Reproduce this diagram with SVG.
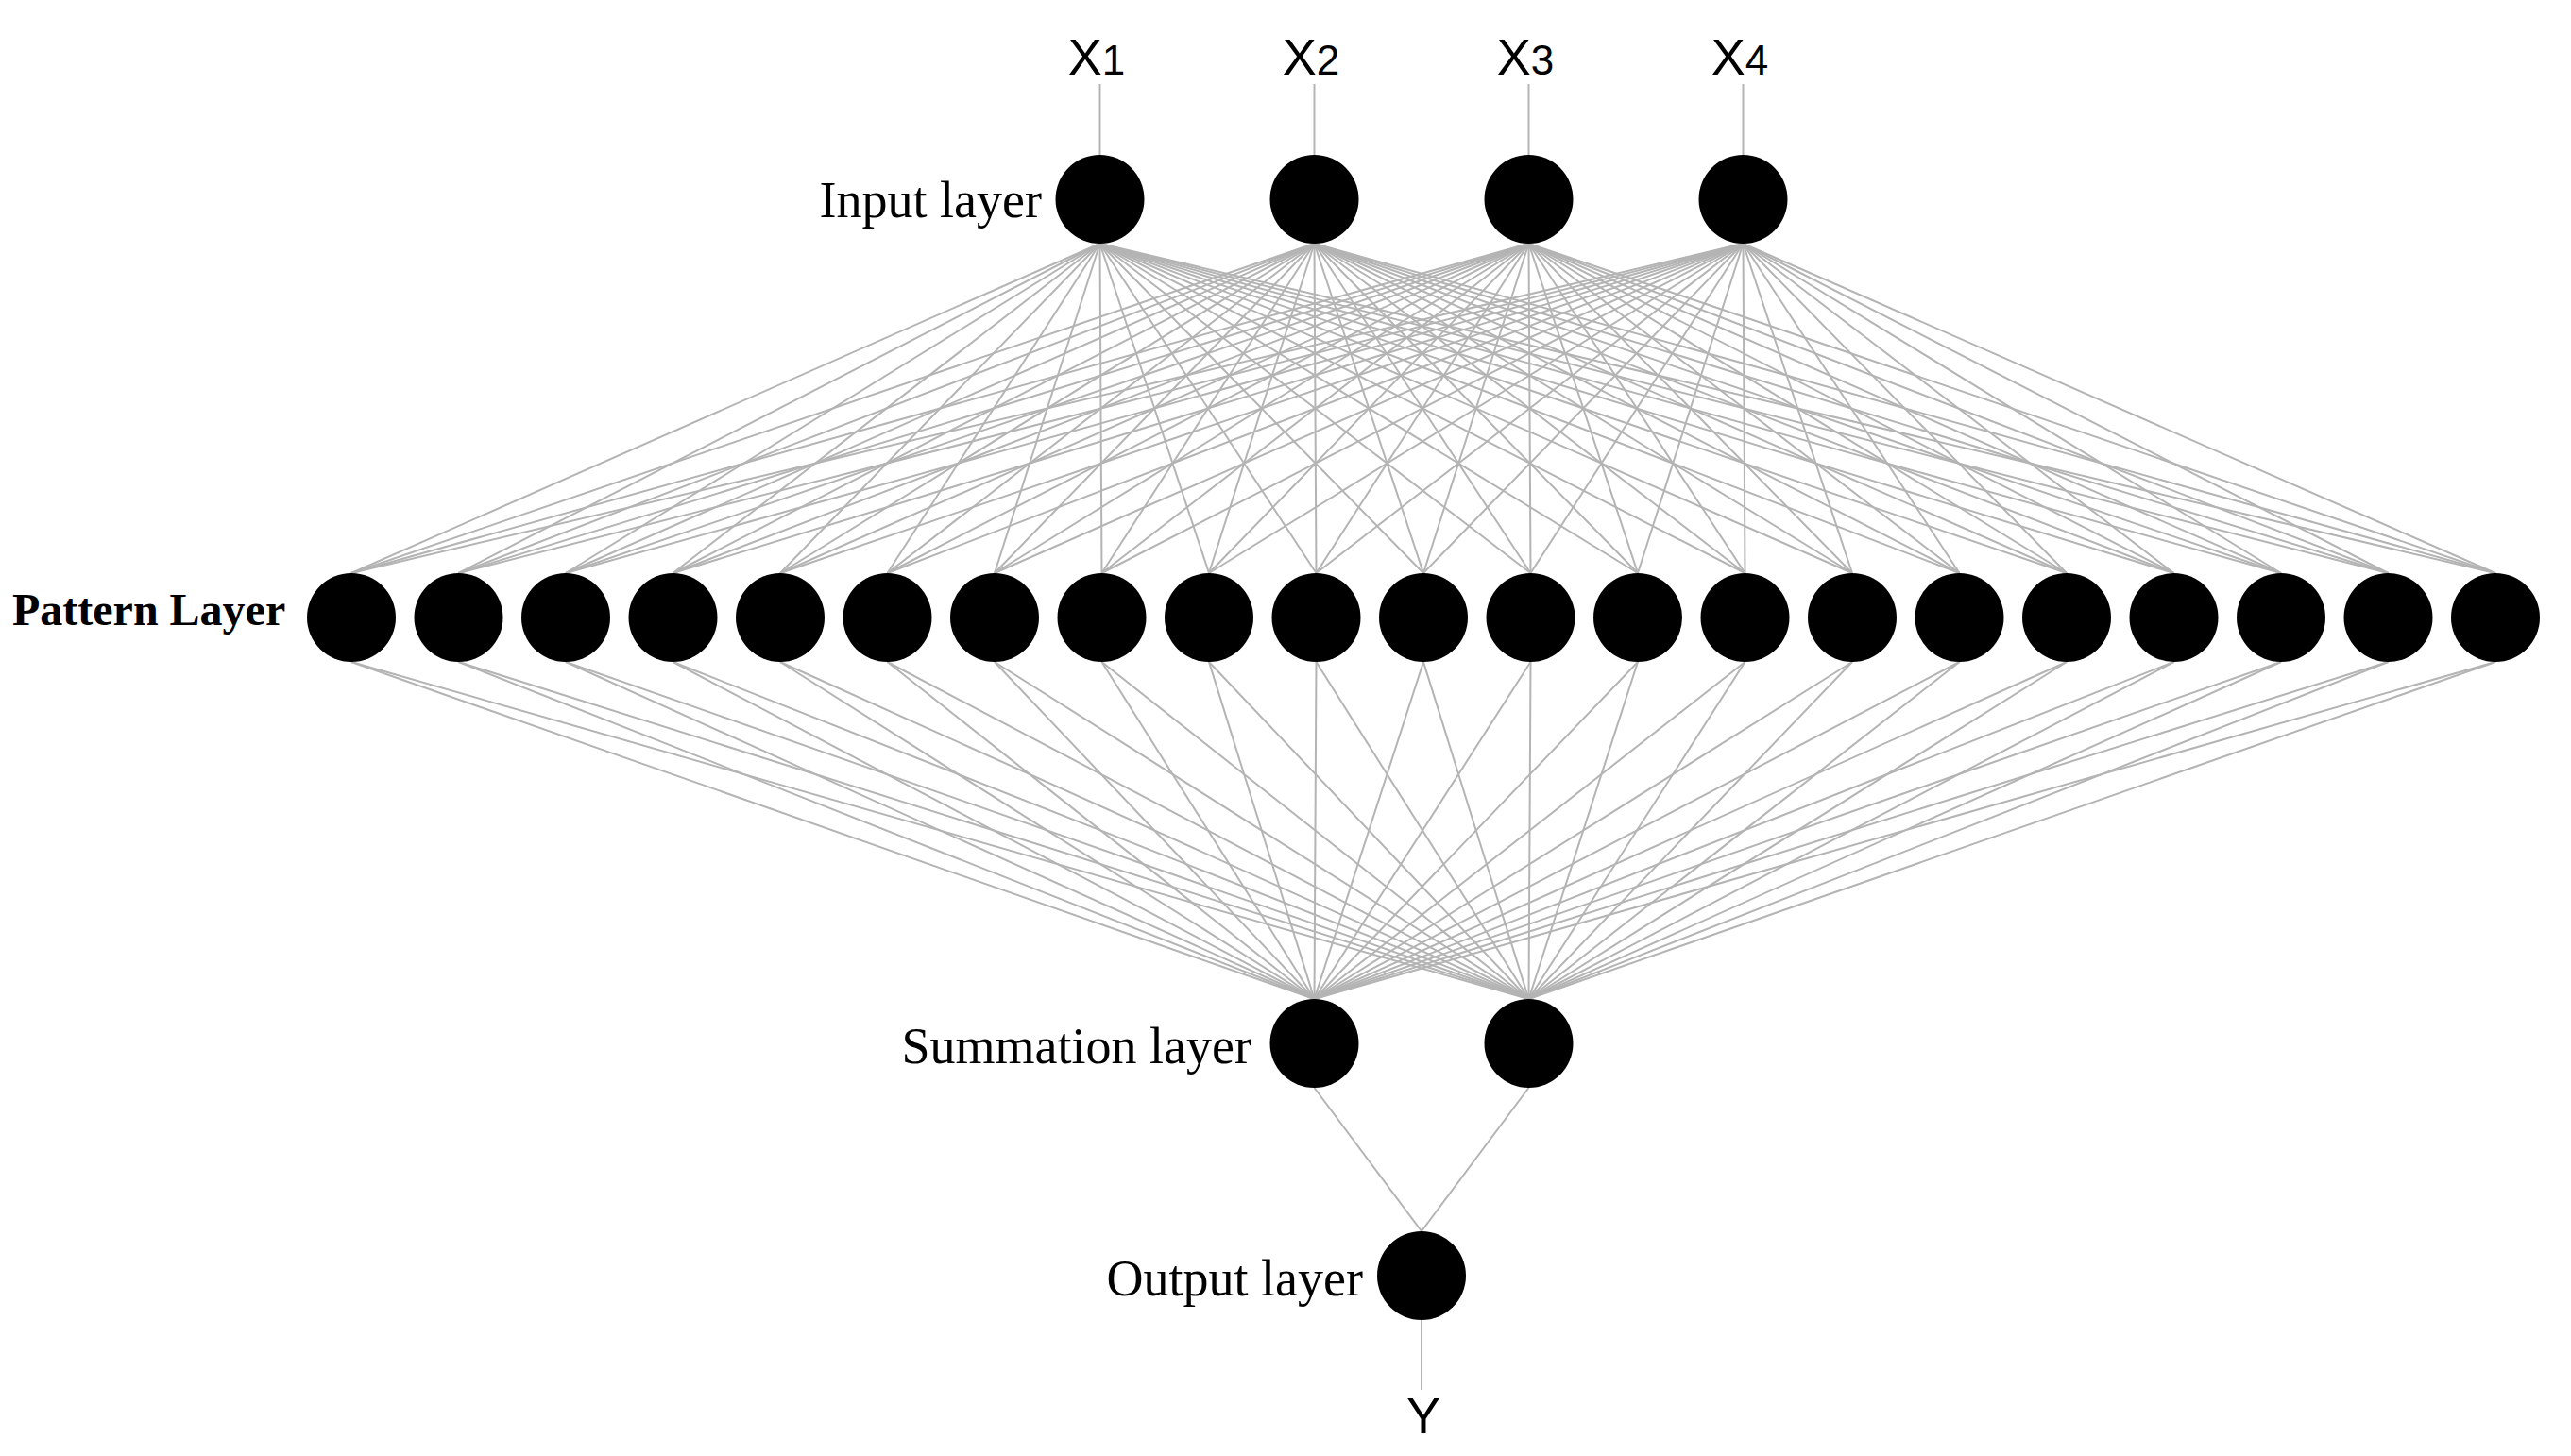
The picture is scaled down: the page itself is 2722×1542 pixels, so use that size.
<svg xmlns="http://www.w3.org/2000/svg" width="2722" height="1542" viewBox="0 0 2722 1542">
<style>
.bg{fill:#ffffff}
.n{fill:#000000}
.c line{stroke:#b4b4b4;stroke-width:2;fill:none}
.lbl{font-family:"Liberation Serif","Times New Roman",serif;font-size:54px;fill:#000}
.lblb{font-family:"Liberation Serif","Times New Roman",serif;font-size:48px;font-weight:bold;fill:#000}
.var{font-family:"Liberation Sans",Arial,sans-serif;font-size:54px;fill:#000;text-anchor:middle}
</style>
<rect class="bg" x="0" y="0" width="2722" height="1542"/>
<g id="connectors" class="c">
<line x1="1164.5" y1="89" x2="1164.5" y2="165"/>
<line x1="1391.5" y1="89" x2="1391.5" y2="165"/>
<line x1="1618.5" y1="89" x2="1618.5" y2="165"/>
<line x1="1845.5" y1="89" x2="1845.5" y2="165"/>
<g id="input-to-pattern">
<line x1="1164.5" y1="258" x2="372" y2="607"/><line x1="1164.5" y1="258" x2="485.5" y2="607"/><line x1="1164.5" y1="258" x2="599" y2="607"/><line x1="1164.5" y1="258" x2="712.5" y2="607"/><line x1="1164.5" y1="258" x2="826" y2="607"/><line x1="1164.5" y1="258" x2="939.5" y2="607"/><line x1="1164.5" y1="258" x2="1053" y2="607"/><line x1="1164.5" y1="258" x2="1166.5" y2="607"/><line x1="1164.5" y1="258" x2="1280" y2="607"/><line x1="1164.5" y1="258" x2="1393.5" y2="607"/><line x1="1164.5" y1="258" x2="1507" y2="607"/><line x1="1164.5" y1="258" x2="1620.5" y2="607"/><line x1="1164.5" y1="258" x2="1734" y2="607"/><line x1="1164.5" y1="258" x2="1847.5" y2="607"/><line x1="1164.5" y1="258" x2="1961" y2="607"/><line x1="1164.5" y1="258" x2="2074.5" y2="607"/><line x1="1164.5" y1="258" x2="2188" y2="607"/><line x1="1164.5" y1="258" x2="2301.5" y2="607"/><line x1="1164.5" y1="258" x2="2415" y2="607"/><line x1="1164.5" y1="258" x2="2528.5" y2="607"/><line x1="1164.5" y1="258" x2="2642" y2="607"/>
<line x1="1391.5" y1="258" x2="372" y2="607"/><line x1="1391.5" y1="258" x2="485.5" y2="607"/><line x1="1391.5" y1="258" x2="599" y2="607"/><line x1="1391.5" y1="258" x2="712.5" y2="607"/><line x1="1391.5" y1="258" x2="826" y2="607"/><line x1="1391.5" y1="258" x2="939.5" y2="607"/><line x1="1391.5" y1="258" x2="1053" y2="607"/><line x1="1391.5" y1="258" x2="1166.5" y2="607"/><line x1="1391.5" y1="258" x2="1280" y2="607"/><line x1="1391.5" y1="258" x2="1393.5" y2="607"/><line x1="1391.5" y1="258" x2="1507" y2="607"/><line x1="1391.5" y1="258" x2="1620.5" y2="607"/><line x1="1391.5" y1="258" x2="1734" y2="607"/><line x1="1391.5" y1="258" x2="1847.5" y2="607"/><line x1="1391.5" y1="258" x2="1961" y2="607"/><line x1="1391.5" y1="258" x2="2074.5" y2="607"/><line x1="1391.5" y1="258" x2="2188" y2="607"/><line x1="1391.5" y1="258" x2="2301.5" y2="607"/><line x1="1391.5" y1="258" x2="2415" y2="607"/><line x1="1391.5" y1="258" x2="2528.5" y2="607"/><line x1="1391.5" y1="258" x2="2642" y2="607"/>
<line x1="1618.5" y1="258" x2="372" y2="607"/><line x1="1618.5" y1="258" x2="485.5" y2="607"/><line x1="1618.5" y1="258" x2="599" y2="607"/><line x1="1618.5" y1="258" x2="712.5" y2="607"/><line x1="1618.5" y1="258" x2="826" y2="607"/><line x1="1618.5" y1="258" x2="939.5" y2="607"/><line x1="1618.5" y1="258" x2="1053" y2="607"/><line x1="1618.5" y1="258" x2="1166.5" y2="607"/><line x1="1618.5" y1="258" x2="1280" y2="607"/><line x1="1618.5" y1="258" x2="1393.5" y2="607"/><line x1="1618.5" y1="258" x2="1507" y2="607"/><line x1="1618.5" y1="258" x2="1620.5" y2="607"/><line x1="1618.5" y1="258" x2="1734" y2="607"/><line x1="1618.5" y1="258" x2="1847.5" y2="607"/><line x1="1618.5" y1="258" x2="1961" y2="607"/><line x1="1618.5" y1="258" x2="2074.5" y2="607"/><line x1="1618.5" y1="258" x2="2188" y2="607"/><line x1="1618.5" y1="258" x2="2301.5" y2="607"/><line x1="1618.5" y1="258" x2="2415" y2="607"/><line x1="1618.5" y1="258" x2="2528.5" y2="607"/><line x1="1618.5" y1="258" x2="2642" y2="607"/>
<line x1="1845.5" y1="258" x2="372" y2="607"/><line x1="1845.5" y1="258" x2="485.5" y2="607"/><line x1="1845.5" y1="258" x2="599" y2="607"/><line x1="1845.5" y1="258" x2="712.5" y2="607"/><line x1="1845.5" y1="258" x2="826" y2="607"/><line x1="1845.5" y1="258" x2="939.5" y2="607"/><line x1="1845.5" y1="258" x2="1053" y2="607"/><line x1="1845.5" y1="258" x2="1166.5" y2="607"/><line x1="1845.5" y1="258" x2="1280" y2="607"/><line x1="1845.5" y1="258" x2="1393.5" y2="607"/><line x1="1845.5" y1="258" x2="1507" y2="607"/><line x1="1845.5" y1="258" x2="1620.5" y2="607"/><line x1="1845.5" y1="258" x2="1734" y2="607"/><line x1="1845.5" y1="258" x2="1847.5" y2="607"/><line x1="1845.5" y1="258" x2="1961" y2="607"/><line x1="1845.5" y1="258" x2="2074.5" y2="607"/><line x1="1845.5" y1="258" x2="2188" y2="607"/><line x1="1845.5" y1="258" x2="2301.5" y2="607"/><line x1="1845.5" y1="258" x2="2415" y2="607"/><line x1="1845.5" y1="258" x2="2528.5" y2="607"/><line x1="1845.5" y1="258" x2="2642" y2="607"/>
</g>
<g id="pattern-to-summation">
<line x1="372" y1="701" x2="1391.5" y2="1058"/><line x1="485.5" y1="701" x2="1391.5" y2="1058"/><line x1="599" y1="701" x2="1391.5" y2="1058"/><line x1="712.5" y1="701" x2="1391.5" y2="1058"/><line x1="826" y1="701" x2="1391.5" y2="1058"/><line x1="939.5" y1="701" x2="1391.5" y2="1058"/><line x1="1053" y1="701" x2="1391.5" y2="1058"/><line x1="1166.5" y1="701" x2="1391.5" y2="1058"/><line x1="1280" y1="701" x2="1391.5" y2="1058"/><line x1="1393.5" y1="701" x2="1391.5" y2="1058"/><line x1="1507" y1="701" x2="1391.5" y2="1058"/><line x1="1620.5" y1="701" x2="1391.5" y2="1058"/><line x1="1734" y1="701" x2="1391.5" y2="1058"/><line x1="1847.5" y1="701" x2="1391.5" y2="1058"/><line x1="1961" y1="701" x2="1391.5" y2="1058"/><line x1="2074.5" y1="701" x2="1391.5" y2="1058"/><line x1="2188" y1="701" x2="1391.5" y2="1058"/><line x1="2301.5" y1="701" x2="1391.5" y2="1058"/><line x1="2415" y1="701" x2="1391.5" y2="1058"/><line x1="2528.5" y1="701" x2="1391.5" y2="1058"/><line x1="2642" y1="701" x2="1391.5" y2="1058"/>
<line x1="372" y1="701" x2="1618.5" y2="1058"/><line x1="485.5" y1="701" x2="1618.5" y2="1058"/><line x1="599" y1="701" x2="1618.5" y2="1058"/><line x1="712.5" y1="701" x2="1618.5" y2="1058"/><line x1="826" y1="701" x2="1618.5" y2="1058"/><line x1="939.5" y1="701" x2="1618.5" y2="1058"/><line x1="1053" y1="701" x2="1618.5" y2="1058"/><line x1="1166.5" y1="701" x2="1618.5" y2="1058"/><line x1="1280" y1="701" x2="1618.5" y2="1058"/><line x1="1393.5" y1="701" x2="1618.5" y2="1058"/><line x1="1507" y1="701" x2="1618.5" y2="1058"/><line x1="1620.5" y1="701" x2="1618.5" y2="1058"/><line x1="1734" y1="701" x2="1618.5" y2="1058"/><line x1="1847.5" y1="701" x2="1618.5" y2="1058"/><line x1="1961" y1="701" x2="1618.5" y2="1058"/><line x1="2074.5" y1="701" x2="1618.5" y2="1058"/><line x1="2188" y1="701" x2="1618.5" y2="1058"/><line x1="2301.5" y1="701" x2="1618.5" y2="1058"/><line x1="2415" y1="701" x2="1618.5" y2="1058"/><line x1="2528.5" y1="701" x2="1618.5" y2="1058"/><line x1="2642" y1="701" x2="1618.5" y2="1058"/>
</g>
<line x1="1391.5" y1="1152" x2="1505" y2="1304"/>
<line x1="1618.5" y1="1152" x2="1505" y2="1304"/>
<line x1="1505" y1="1398" x2="1505" y2="1472"/>
</g>
<g id="labels">
<text class="var" x="1161" y="79">X<tspan font-size="44">1</tspan></text>
<text class="var" x="1388" y="79">X<tspan font-size="44">2</tspan></text>
<text class="var" x="1615" y="79">X<tspan font-size="44">3</tspan></text>
<text class="var" x="1842" y="79">X<tspan font-size="44">4</tspan></text>
<text class="var" x="1507" y="1518">Y</text>
<text class="lbl" x="1103" y="230" text-anchor="end">Input layer</text>
<text class="lblb" x="13" y="662">Pattern Layer</text>
<text class="lbl" x="1325" y="1126" text-anchor="end">Summation layer</text>
<text class="lbl" x="1443" y="1372" text-anchor="end">Output layer</text>
</g>
<g id="input-layer">
<circle id="in1" class="n" cx="1164.5" cy="211" r="47"/>
<circle id="in2" class="n" cx="1391.5" cy="211" r="47"/>
<circle id="in3" class="n" cx="1618.5" cy="211" r="47"/>
<circle id="in4" class="n" cx="1845.5" cy="211" r="47"/>
</g>
<g id="pattern-layer">
<circle id="p1" class="n" cx="372" cy="654" r="47"/>
<circle id="p2" class="n" cx="485.5" cy="654" r="47"/>
<circle id="p3" class="n" cx="599" cy="654" r="47"/>
<circle id="p4" class="n" cx="712.5" cy="654" r="47"/>
<circle id="p5" class="n" cx="826" cy="654" r="47"/>
<circle id="p6" class="n" cx="939.5" cy="654" r="47"/>
<circle id="p7" class="n" cx="1053" cy="654" r="47"/>
<circle id="p8" class="n" cx="1166.5" cy="654" r="47"/>
<circle id="p9" class="n" cx="1280" cy="654" r="47"/>
<circle id="p10" class="n" cx="1393.5" cy="654" r="47"/>
<circle id="p11" class="n" cx="1507" cy="654" r="47"/>
<circle id="p12" class="n" cx="1620.5" cy="654" r="47"/>
<circle id="p13" class="n" cx="1734" cy="654" r="47"/>
<circle id="p14" class="n" cx="1847.5" cy="654" r="47"/>
<circle id="p15" class="n" cx="1961" cy="654" r="47"/>
<circle id="p16" class="n" cx="2074.5" cy="654" r="47"/>
<circle id="p17" class="n" cx="2188" cy="654" r="47"/>
<circle id="p18" class="n" cx="2301.5" cy="654" r="47"/>
<circle id="p19" class="n" cx="2415" cy="654" r="47"/>
<circle id="p20" class="n" cx="2528.5" cy="654" r="47"/>
<circle id="p21" class="n" cx="2642" cy="654" r="47"/>
</g>
<g id="summation-layer">
<circle id="s1" class="n" cx="1391.5" cy="1105" r="47"/>
<circle id="s2" class="n" cx="1618.5" cy="1105" r="47"/>
</g>
<g id="output-layer">
<circle id="out" class="n" cx="1505" cy="1351" r="47"/>
</g>
</svg>
